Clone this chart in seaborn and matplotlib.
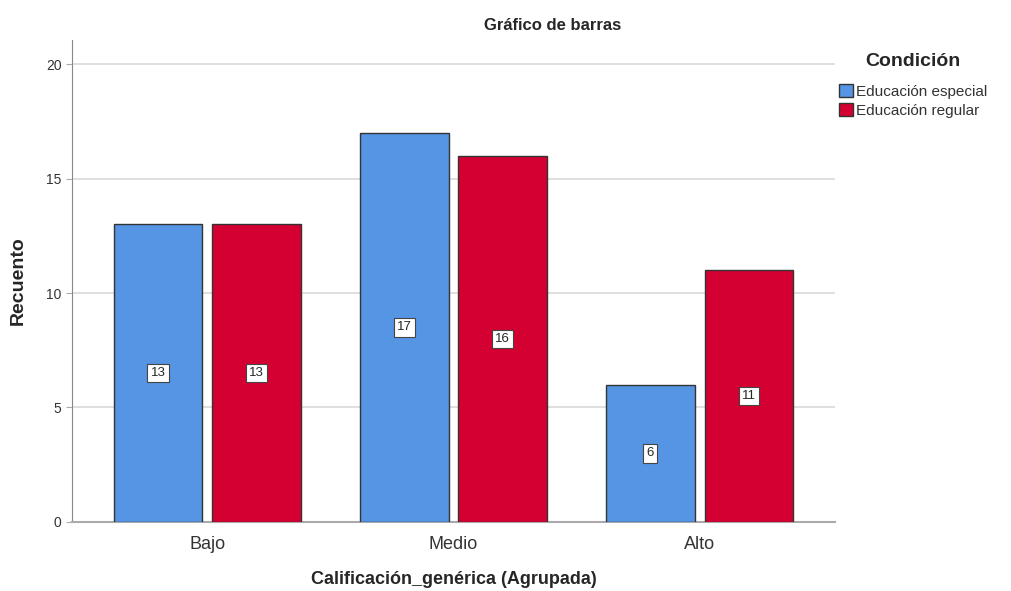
import pandas as pd
import matplotlib.pyplot as plt
import seaborn as sns

categorias = ['Bajo', 'Medio', 'Alto']
condiciones = ['Educación especial', 'Educación regular']
especial = [13, 17, 6]
regular = [13, 16, 11]
colores = ['#5595E3', '#D50032']

df = pd.DataFrame({
    'Calificacion': categorias * 2,
    'Condicion': [condiciones[0]] * 3 + [condiciones[1]] * 3,
    'Recuento': especial + regular,
})

sns.set_style('white')
plt.rcParams['font.family'] = ['Liberation Sans', 'DejaVu Sans']

fig = plt.figure(figsize=(10.11, 5.91), dpi=100)
ax = fig.add_axes([0.0712, 0.1168, 0.7547, 0.8155])

sns.barplot(data=df, x='Calificacion', y='Recuento', hue='Condicion',
            order=categorias, hue_order=condiciones, palette=colores,
            width=0.8, gap=0.1, edgecolor='#333333', linewidth=1.0,
            saturation=1, ax=ax, legend=False, zorder=3)

for cont in ax.containers:
    for bar in cont:
        h = bar.get_height()
        ax.text(bar.get_x() + bar.get_width() / 2, h / 2, f'{int(h)}',
                ha='center', va='center', fontsize=9.5, zorder=5,
                bbox=dict(boxstyle='square,pad=0.25', fc='white', ec='#444444', lw=0.8))

ax.set_ylim(0, 21.05)
ax.set_xlim(-0.55, 2.55)
ax.set_yticks([0, 5, 10, 15, 20])
ax.yaxis.grid(True, color='#D9D9D9', linewidth=1.2, zorder=0)
ax.set_axisbelow(True)
for s in ['top', 'right']:
    ax.spines[s].set_visible(False)
ax.spines['left'].set_color('#888888')
ax.spines['bottom'].set_color('#AAAAAA')
ax.spines['bottom'].set_linewidth(1.5)
ax.tick_params(axis='y', labelsize=10, labelcolor='#333333', length=4, color='#AAAAAA', left=True)
ax.tick_params(axis='x', labelsize=13, labelcolor='#333333', length=0, pad=10)

ax.set_xlabel('Calificación_genérica (Agrupada)', fontsize=13, fontweight='bold', labelpad=13)
ax.set_ylabel('Recuento', fontsize=14, fontweight='bold', labelpad=14)

fig.text(553 / 1011, 1 - 25 / 591, 'Gráfico de barras', ha='center', va='center',
         fontsize=12, fontweight='bold')

handles = [plt.Rectangle((0, 0), 1, 1, fc=c, ec='#333333', lw=1) for c in colores]
leg = fig.legend(handles, condiciones, title='Condición', loc='upper left',
                 bbox_to_anchor=(833 / 1011, 1 - 47 / 591), frameon=False,
                 fontsize=11, title_fontsize=14, handlelength=0.9, handleheight=0.9,
                 handletextpad=0.2, labelspacing=0.3, borderaxespad=0)
leg.get_title().set_fontweight('bold')
leg._legend_box.sep = 10
for t in leg.get_texts():
    t.set_color('#333333')

fig.savefig('out.png', dpi=100)
